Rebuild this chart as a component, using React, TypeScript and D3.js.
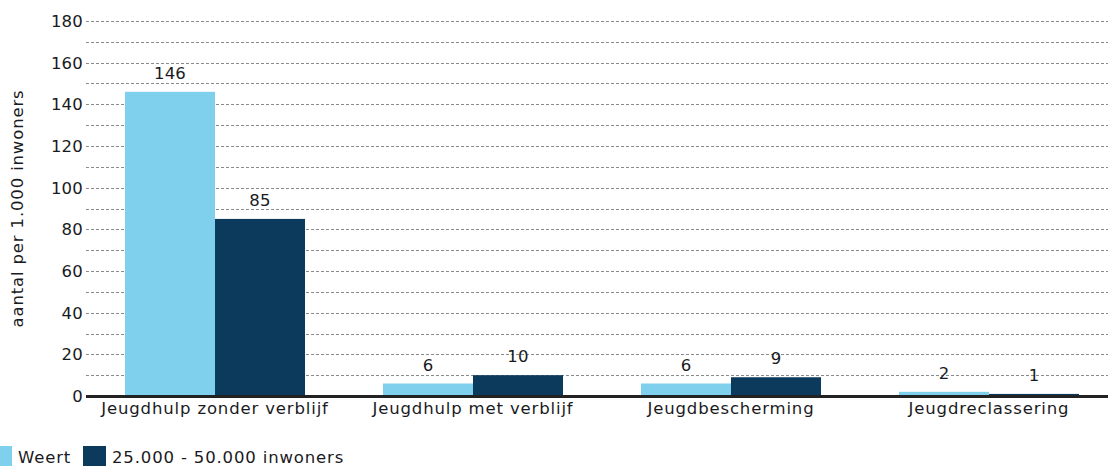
import React from "react";
import * as d3 from "d3";

const categories = ["Jeugdhulp zonder verblijf", "Jeugdhulp met verblijf", "Jeugdbescherming", "Jeugdreclassering"];
const seriesNames = ["Weert", "25.000 - 50.000 inwoners"];
const weert = [146, 6, 6, 2];
const groep = [85, 10, 9, 1];
const yTicks = [0, 20, 40, 60, 80, 100, 120, 140, 160, 180];
const gridValues = d3.range(10, 181, 10);
const colors = ["#7ED0EC", "#0B3A5C"];

const W = 1108, H = 466;
const left = 86, right = 1118, top = 21, bottom = 396;
const font = "'DejaVu Sans', Verdana, sans-serif";
const fs = 16.5;
const ls = 0.85;

export default function App() {
  const y = d3.scaleLinear().domain([0, 180]).range([bottom, top]);
  const x0 = d3.scaleBand<string>().domain(categories).range([left, right]).paddingInner(0.3023).paddingOuter(0.1512);
  const x1 = d3.scaleBand<string>().domain(seriesNames).range([0, x0.bandwidth()]);
  const series = [weert, groep];
  return (
    <svg width={W} height={H} style={{ position: "absolute", left: 0, top: 0, background: "#fff" }} fontFamily={font}>
      {gridValues.map((v) => (
        <line key={v} x1={left} x2={W} y1={Math.round(y(v)) + 0.5} y2={Math.round(y(v)) + 0.5} stroke="#8a8a8a" strokeWidth={1} strokeDasharray="3,2" />
      ))}
      {yTicks.map((v) => (
        <text key={v} x={83} y={y(v)} dy="0.36em" textAnchor="end" fontSize={fs} letterSpacing={0.2} fill="#1a1a22">{v}</text>
      ))}
      <text transform={`translate(23,${(top + bottom) / 2}) rotate(-90)`} textAnchor="middle" fontSize={fs} letterSpacing={ls} fill="#1a1a22">aantal per 1.000 inwoners</text>
      {categories.map((c, i) => (
        <g key={c}>
          {series.map((s, j) => {
            const bx = (x0(c) as number) + (x1(seriesNames[j]) as number);
            return (
              <g key={j}>
                <rect x={bx} y={y(s[i])} width={x1.bandwidth()} height={bottom - y(s[i])} fill={colors[j]} />
                <text x={bx + x1.bandwidth() / 2} y={y(s[i]) - 13} textAnchor="middle" fontSize={fs} letterSpacing={0.2} fill="#1a1a22">{s[i]}</text>
              </g>
            );
          })}
          <text x={(x0(c) as number) + x0.bandwidth() / 2} y={414} textAnchor="middle" fontSize={fs} letterSpacing={ls} fill="#1a1a22">{c}</text>
        </g>
      ))}
      <line x1={left} x2={W} y1={bottom + 0.5} y2={bottom + 0.5} stroke="#222" strokeWidth={3} />
      <g>
        <rect x={-11} y={446} width={23} height={20} fill={colors[0]} />
        <text x={18} y={463} fontSize={fs} letterSpacing={ls} fill="#1a1a22">{seriesNames[0]}</text>
        <rect x={83} y={446} width={23} height={20} fill={colors[1]} />
        <text x={112} y={463} fontSize={fs} letterSpacing={ls} fill="#1a1a22">{seriesNames[1]}</text>
      </g>
    </svg>
  );
}
